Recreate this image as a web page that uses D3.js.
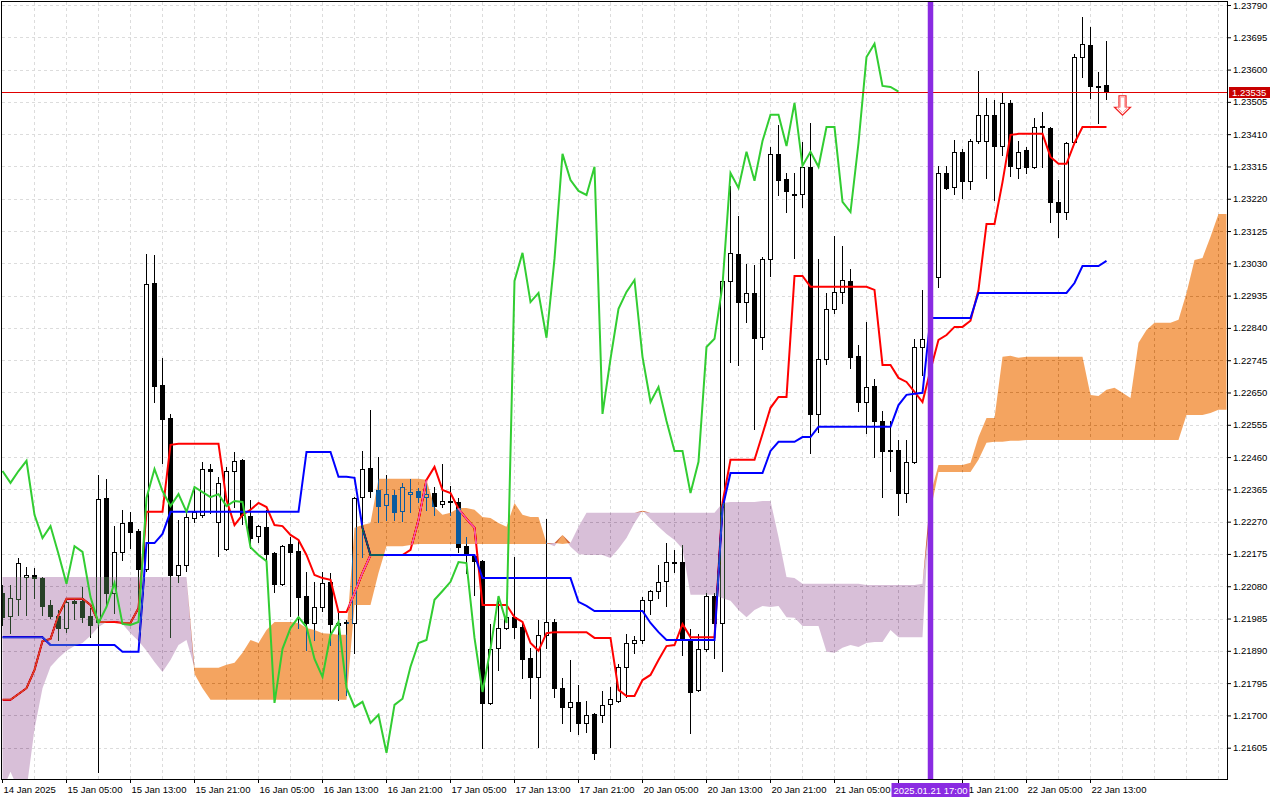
<!DOCTYPE html>
<html>
<head>
<meta charset="utf-8">
<script src="https://cdn.jsdelivr.net/npm/d3@7"></script>
<style>
  html, body { margin: 0; padding: 0; background: #fff; }
  svg { display: block; font-family: "Liberation Sans", Arial, sans-serif; }
</style>
</head>
<body>
<div id="chart"></div>
<script>
// H1 bars, 14 Jan 21:00 .. 22 Jan 15:00
const opens = [
  1.22060,1.21992,1.22043,1.22107,1.22113,1.22104,1.22025,1.21992,1.21957,1.22037,
  1.22037,1.21992,1.21975,1.22340,1.22060,1.22181,1.22269,1.22243,1.22131,1.22972,
  1.22672,1.22575,1.22113,1.22142,1.22281,1.22290,1.22425,1.22269,1.22190,1.22419,
  1.22452,1.22287,1.22228,1.22255,1.22178,1.22087,1.22204,1.22184,1.22051,1.21972,
  1.22019,1.22093,1.21972,1.21972,1.21972,1.22342,1.22428,1.22363,1.22319,1.22348,
  1.22302,1.22351,1.22360,1.22342,1.22354,1.22322,1.22331,1.22328,1.22198,1.22169,
  1.22154,1.21737,1.21899,1.21957,1.21989,1.21960,1.21869,1.21813,1.21937,1.21975,
  1.21781,1.21725,1.21740,1.21678,1.21704,1.21702,1.21734,1.21743,1.21843,1.21913,
  1.21922,1.22040,1.22066,1.22096,1.22151,1.22151,1.21925,1.21775,1.21896,1.22051,
  1.21972,1.22978,1.23058,1.22916,1.22943,1.22814,1.23043,1.23352,1.23278,1.23234,
  1.23234,1.23314,1.22587,1.22749,1.22896,1.22946,1.22978,1.22758,1.22622,1.22669,
  1.22566,1.22480,1.22481,1.22354,1.22446,1.22784,1.22808,1.22990,1.23296,1.23255,
  1.23358,1.23273,1.23390,1.23390,1.23467,1.23375,1.23502,1.23311,1.23364,1.23314,
  1.23434,1.23428,1.23211,1.23181,1.23387,1.23637,1.23673,1.23552,1.23555
];
const highs = [
  1.22084,1.22084,1.22163,1.22136,1.22133,1.22106,1.22040,1.22010,1.22040,1.22045,
  1.22078,1.22016,1.22407,1.22396,1.22257,1.22305,1.22299,1.22249,1.23058,1.23055,
  1.22751,1.22587,1.22275,1.22299,1.22372,1.22446,1.22440,1.22401,1.22431,1.22475,
  1.22455,1.22334,1.22260,1.22305,1.22181,1.22200,1.22225,1.22216,1.22122,1.22093,
  1.22122,1.22119,1.22004,1.21981,1.22342,1.22478,1.22599,1.22461,1.22407,1.22363,
  1.22384,1.22396,1.22369,1.22387,1.22372,1.22440,1.22375,1.22340,1.22225,1.22175,
  1.22157,1.21969,1.22048,1.22019,1.22166,1.21975,1.21899,1.21981,1.22278,1.21984,
  1.21810,1.21863,1.21790,1.21743,1.21707,1.21772,1.21784,1.21852,1.21940,1.21934,
  1.22048,1.22069,1.22142,1.22207,1.22187,1.22201,1.21954,1.21940,1.22060,1.22060,
  1.22990,1.23258,1.23170,1.23028,1.23025,1.23049,1.23373,1.23437,1.23296,1.23296,
  1.23387,1.23443,1.23043,1.22943,1.23111,1.23081,1.23014,1.22790,1.22858,1.22690,
  1.22596,1.22566,1.22510,1.22510,1.22808,1.22952,1.22981,1.23317,1.23317,1.23393,
  1.23367,1.23396,1.23596,1.23517,1.23511,1.23531,1.23511,1.23390,1.23373,1.23458,
  1.23475,1.23432,1.23275,1.23387,1.23646,1.23755,1.23726,1.23593,1.23684
];
const lows = [
  1.21966,1.21942,1.21995,1.21995,1.22045,1.21995,1.21986,1.21922,1.21945,1.21984,
  1.21975,1.21930,1.21534,1.22025,1.22001,1.22157,1.22192,1.22016,1.22125,1.22622,
  1.22443,1.21930,1.22093,1.22125,1.22269,1.22284,1.22296,1.22169,1.22187,1.22313,
  1.22263,1.22192,1.22210,1.22157,1.22063,1.22084,1.21992,1.21957,1.21893,1.21922,
  1.22007,1.21907,1.21746,1.21760,1.21884,1.22166,1.22342,1.22269,1.22275,1.22275,
  1.22272,1.22299,1.22328,1.22305,1.22290,1.22313,1.22290,1.22181,1.22119,1.22055,
  1.21604,1.21734,1.21834,1.21954,1.21928,1.21810,1.21752,1.21607,1.21899,1.21755,
  1.21678,1.21654,1.21645,1.21651,1.21572,1.21681,1.21607,1.21740,1.21755,1.21884,
  1.21913,1.21998,1.22045,1.22022,1.22122,1.21878,1.21648,1.21772,1.21890,1.21869,
  1.21831,1.22740,1.22731,1.22858,1.22543,1.22778,1.22993,1.23231,1.23181,1.23046,
  1.23196,1.22472,1.22534,1.22734,1.22884,1.22914,1.22722,1.22596,1.22531,1.22461,
  1.22342,1.22419,1.22290,1.22328,1.22443,1.22702,1.22790,1.22961,1.23249,1.23234,
  1.23222,1.23249,1.23384,1.23281,1.23217,1.23349,1.23287,1.23281,1.23296,1.23311,
  1.23314,1.23152,1.23108,1.23161,1.23384,1.23578,1.23517,1.23443,1.23514
];
const closes = [
  1.21989,1.22045,1.22148,1.22113,1.22104,1.22022,1.21992,1.21957,1.22034,1.22031,
  1.21989,1.21966,1.22337,1.22060,1.22181,1.22266,1.22240,1.22131,1.22969,1.22669,
  1.22573,1.22113,1.22142,1.22284,1.22299,1.22425,1.22419,1.22384,1.22419,1.22449,
  1.22290,1.22222,1.22257,1.22175,1.22087,1.22198,1.22181,1.22048,1.21972,1.22019,
  1.22090,1.21969,1.21966,1.21975,1.22340,1.22425,1.22360,1.22316,1.22351,1.22299,
  1.22372,1.22357,1.22342,1.22351,1.22316,1.22331,1.22328,1.22195,1.22172,1.22154,
  1.21737,1.21896,1.21957,1.21989,1.21960,1.21866,1.21813,1.21937,1.21975,1.21781,
  1.21725,1.21740,1.21678,1.21702,1.21590,1.21731,1.21749,1.21843,1.21913,1.21922,
  1.22040,1.22066,1.22093,1.22151,1.22148,1.21928,1.21769,1.21896,1.22051,1.21972,
  1.22978,1.23061,1.22916,1.22943,1.22811,1.23043,1.23352,1.23275,1.23243,1.23231,
  1.23314,1.22587,1.22749,1.22896,1.22946,1.22981,1.22755,1.22622,1.22666,1.22566,
  1.22478,1.22478,1.22354,1.22446,1.22784,1.22808,1.22966,1.23296,1.23252,1.23358,
  1.23273,1.23390,1.23467,1.23467,1.23375,1.23502,1.23317,1.23358,1.23314,1.23431,
  1.23431,1.23211,1.23181,1.23384,1.23637,1.23676,1.23552,1.23549,1.23535
];

// Ichimoku lines, one value per bar
const tenkan = [
  1.21746,1.21746,1.21763,1.21780,1.21834,1.21919,1.21925,1.21995,1.22043,1.22043,
  1.22043,1.22025,1.21975,1.21975,1.21975,1.21972,1.21972,1.22016,1.22299,1.22299,
  1.22299,1.22496,1.22499,1.22499,1.22499,1.22499,1.22499,1.22499,1.22334,1.22260,
  1.22290,1.22305,1.22325,1.22313,1.22260,1.22257,1.22231,1.22216,1.22172,1.22113,
  1.22104,1.22099,1.22004,1.22004,1.22060,1.22119,1.22172,1.22172,1.22172,1.22172,
  1.22172,1.22187,1.22275,1.22393,1.22431,1.22363,1.22354,1.22308,1.22278,1.22252,
  1.22025,1.22025,1.22025,1.22025,1.21989,1.21975,1.21913,1.21890,1.21942,1.21945,
  1.21945,1.21945,1.21945,1.21945,1.21928,1.21928,1.21928,1.21775,1.21757,1.21757,
  1.21804,1.21819,1.21863,1.21904,1.21907,1.21969,1.21930,1.21930,1.21930,1.21930,
  1.22325,1.22452,1.22452,1.22452,1.22452,1.22528,1.22605,1.22637,1.22637,1.22993,
  1.22993,1.22961,1.22961,1.22961,1.22961,1.22961,1.22961,1.22961,1.22961,1.22952,
  1.22731,1.22731,1.22693,1.22681,1.22652,1.22622,1.22716,1.22805,1.22819,1.22843,
  1.22843,1.22861,1.22952,1.23146,1.23146,1.23269,1.23408,1.23411,1.23411,1.23411,
  1.23411,1.23343,1.23323,1.23323,1.23384,1.23431,1.23431,1.23431,1.23431
];
const kijun = [
  1.21930,1.21930,1.21930,1.21930,1.21930,1.21930,1.21907,1.21907,1.21907,1.21907,
  1.21907,1.21907,1.21907,1.21907,1.21907,1.21887,1.21887,1.21887,1.22207,1.22207,
  1.22234,1.22299,1.22299,1.22299,1.22299,1.22299,1.22299,1.22299,1.22299,1.22299,
  1.22299,1.22299,1.22299,1.22299,1.22299,1.22299,1.22299,1.22299,1.22475,1.22475,
  1.22475,1.22475,1.22402,1.22402,1.22399,1.22252,1.22172,1.22172,1.22172,1.22172,
  1.22172,1.22172,1.22172,1.22172,1.22172,1.22172,1.22172,1.22172,1.22172,1.22172,
  1.22104,1.22104,1.22104,1.22104,1.22104,1.22104,1.22104,1.22104,1.22104,1.22104,
  1.22104,1.22104,1.22034,1.22022,1.22007,1.22007,1.22007,1.22007,1.22007,1.22007,
  1.22007,1.21972,1.21945,1.21922,1.21922,1.21922,1.21922,1.21922,1.21922,1.21922,
  1.22310,1.22413,1.22413,1.22413,1.22413,1.22413,1.22478,1.22505,1.22505,1.22505,
  1.22519,1.22519,1.22549,1.22549,1.22549,1.22549,1.22549,1.22549,1.22549,1.22549,
  1.22549,1.22549,1.22613,1.22643,1.22646,1.22649,1.22869,1.22869,1.22869,1.22869,
  1.22869,1.22869,1.22943,1.22943,1.22943,1.22943,1.22943,1.22943,1.22943,1.22943,
  1.22943,1.22943,1.22943,1.22943,1.22972,1.23022,1.23022,1.23022,1.23037
];
// lagging span, plotted from the first bar
const chikou = [
  1.22419,1.22384,1.22419,1.22449,1.22290,1.22222,1.22257,1.22175,1.22087,1.22198,
  1.22181,1.22048,1.21972,1.22019,1.22090,1.21969,1.21966,1.21975,1.22340,1.22425,
  1.22360,1.22316,1.22351,1.22299,1.22372,1.22357,1.22342,1.22351,1.22316,1.22331,
  1.22328,1.22195,1.22172,1.22154,1.21737,1.21896,1.21957,1.21989,1.21960,1.21866,
  1.21813,1.21937,1.21975,1.21781,1.21725,1.21740,1.21678,1.21702,1.21590,1.21731,
  1.21749,1.21843,1.21913,1.21922,1.22040,1.22066,1.22093,1.22151,1.22148,1.21928,
  1.21769,1.21896,1.22051,1.21972,1.22978,1.23061,1.22916,1.22943,1.22811,1.23043,
  1.23352,1.23275,1.23243,1.23231,1.23314,1.22587,1.22749,1.22896,1.22946,1.22981,
  1.22755,1.22622,1.22666,1.22566,1.22478,1.22478,1.22354,1.22446,1.22784,1.22808,
  1.22966,1.23296,1.23252,1.23358,1.23273,1.23390,1.23467,1.23467,1.23375,1.23502,
  1.23317,1.23358,1.23314,1.23431,1.23431,1.23211,1.23181,1.23384,1.23637,1.23676,
  1.23552,1.23549,1.23535
];
// leading spans, already shifted forward (runs past the last bar)
const spanA = [
  1.21481,1.21534,1.21481,1.21481,1.21660,1.21780,1.21843,1.21869,1.21890,1.21904,
  1.21913,1.21934,1.21960,1.21975,1.21978,1.21969,1.21942,1.21919,1.21890,1.21857,
  1.21828,1.21863,1.21907,1.21922,1.21840,1.21840,1.21840,1.21840,1.21849,1.21855,
  1.21884,1.21922,1.21913,1.21951,1.21975,1.21975,1.21975,1.21972,1.21957,1.21951,
  1.21942,1.21940,1.21937,1.21937,1.22252,1.22260,1.22266,1.22396,1.22396,1.22396,
  1.22396,1.22396,1.22396,1.22393,1.22313,1.22290,1.22296,1.22310,1.22310,1.22305,
  1.22284,1.22281,1.22266,1.22255,1.22325,1.22290,1.22284,1.22284,1.22207,1.22198,
  1.22231,1.22196,1.22175,1.22172,1.22172,1.22172,1.22163,1.22190,1.22222,1.22266,
  1.22302,1.22278,1.22255,1.22234,1.22216,1.22190,1.22055,1.22055,1.22055,1.22055,
  1.22045,1.22037,1.22010,1.21989,1.22010,1.22022,1.22019,1.22022,1.21989,1.21987,
  1.21963,1.21963,1.21963,1.21887,1.21884,1.21899,1.21907,1.21901,1.21913,1.21916,
  1.21916,1.21951,1.21930,1.21930,1.21930,1.21930,1.22351,1.22437,1.22437,1.22437,
  1.22437,1.22443,1.22519,1.22575,1.22575,1.22755,1.22758,1.22752,1.22755,1.22755,
  1.22755,1.22755,1.22755,1.22755,1.22755,1.22755,1.22643,1.22640,1.22658,1.22664,
  1.22649,1.22634,1.22796,1.22834,1.22855,1.22855,1.22855,1.22864,1.22943,1.23040,
  1.23046,1.23108,1.23175,1.23175
];
const spanB = [
  1.22107,1.22107,1.22107,1.22107,1.22107,1.22107,1.22107,1.22107,1.22107,1.22107,
  1.22107,1.22107,1.22107,1.22107,1.22107,1.22107,1.22107,1.22107,1.22107,1.22107,
  1.22107,1.22107,1.22107,1.22107,1.21822,1.21780,1.21746,1.21746,1.21746,1.21746,
  1.21746,1.21746,1.21746,1.21746,1.21746,1.21746,1.21746,1.21746,1.21746,1.21746,
  1.21746,1.21746,1.21746,1.21746,1.22025,1.22025,1.22025,1.22119,1.22198,1.22198,
  1.22198,1.22201,1.22204,1.22204,1.22204,1.22204,1.22204,1.22204,1.22204,1.22204,
  1.22204,1.22204,1.22204,1.22204,1.22204,1.22204,1.22204,1.22204,1.22204,1.22207,
  1.22204,1.22207,1.22255,1.22296,1.22296,1.22296,1.22296,1.22296,1.22296,1.22296,
  1.22299,1.22296,1.22296,1.22296,1.22296,1.22296,1.22296,1.22296,1.22296,1.22296,
  1.22325,1.22328,1.22328,1.22328,1.22328,1.22331,1.22331,1.22225,1.22107,1.22104,
  1.22087,1.22087,1.22087,1.22087,1.22087,1.22087,1.22087,1.22087,1.22084,1.22084,
  1.22084,1.22084,1.22084,1.22084,1.22084,1.22087,1.22302,1.22416,1.22416,1.22416,
  1.22416,1.22416,1.22452,1.22502,1.22505,1.22505,1.22508,1.22508,1.22510,1.22510,
  1.22510,1.22510,1.22510,1.22510,1.22510,1.22510,1.22510,1.22510,1.22510,1.22510,
  1.22510,1.22510,1.22510,1.22510,1.22510,1.22510,1.22510,1.22510,1.22584,1.22584,
  1.22584,1.22590,1.22599,1.22599
];

const priceTicks = [
  1.21605,1.21700,1.21795,1.21890,1.21985,1.22080,1.22175,1.22270,1.22365,1.22460,
  1.22555,1.22650,1.22745,1.22840,1.22935,1.23030,1.23125,1.23220,1.23315,1.23410,
  1.23505,1.23600,1.23695,1.23790
];
const timeTickBars = [0,8,16,24,32,40,48,56,64,72,80,88,96,104,112,120,128,136];
const timeTickLabels = [
  "14 Jan 2025","15 Jan 05:00","15 Jan 13:00","15 Jan 21:00","16 Jan 05:00",
  "16 Jan 13:00","16 Jan 21:00","17 Jan 05:00","17 Jan 13:00","17 Jan 21:00",
  "20 Jan 05:00","20 Jan 13:00","20 Jan 21:00","21 Jan 05:00","21 Jan 13:00",
  "21 Jan 21:00","22 Jan 05:00","22 Jan 13:00"
];
const lastPrice = 1.23535;
const cursorBar = 116;
const cursorLabel = "2025.01.21 17:00";
const signalBar = 140;
const signalPrice = 1.23523;

// layout
const WIDTH = 1280, HEIGHT = 800;
const PLOT = { left: 2, top: 2, right: 1227, bottom: 779 };
const SANDY = "#f4a460", THISTLE = "#d8bfd8";
const FONT_SIZE = "9.5px";
const CURSOR_TAG_W = 78;

const x = d3.scaleLinear().domain([0, 1]).range([2.5, 10.5]);
const y = d3.scaleLinear().domain([1.21605, 1.23790]).range([747.7, 5]);

// MT5 draws the cloud in xor-mode, so draw the inverse colour with difference blending
function invert(c) {
  const rgb = d3.rgb(c);
  return d3.rgb(255 - rgb.r, 255 - rgb.g, 255 - rgb.b).formatHex();
}

const svg = d3.select("#chart").append("svg")
  .attr("width", WIDTH).attr("height", HEIGHT);

svg.append("rect").attr("width", WIDTH).attr("height", HEIGHT).attr("fill", "#fff");

svg.append("clipPath").attr("id", "plotClip")
  .append("rect")
  .attr("x", PLOT.left).attr("y", PLOT.top)
  .attr("width", PLOT.right - PLOT.left).attr("height", PLOT.bottom - PLOT.top);

const plot = svg.append("g").attr("clip-path", "url(#plotClip)");
plot.append("rect")
  .attr("x", PLOT.left).attr("y", PLOT.top)
  .attr("width", PLOT.right - PLOT.left).attr("height", PLOT.bottom - PLOT.top)
  .attr("fill", "#fff");

// grid
const grid = plot.append("g")
  .attr("stroke", "#dcdcdc").attr("stroke-dasharray", "3,3").attr("shape-rendering", "crispEdges");
grid.selectAll(".hgrid").data(priceTicks).join("line")
  .attr("x1", PLOT.left).attr("x2", PLOT.right)
  .attr("y1", (d) => Math.round(y(d)) + 0.5).attr("y2", (d) => Math.round(y(d)) + 0.5);
grid.selectAll(".vgrid").data(d3.range(4, spanA.length, 4)).join("line")
  .attr("x1", (d) => x(d)).attr("x2", (d) => x(d))
  .attr("y1", PLOT.top).attr("y2", PLOT.bottom);

// candles
const bars = d3.range(opens.length);
const candles = plot.append("g");
candles.selectAll(".wick").data(bars).join("line")
  .attr("class", "wick")
  .attr("x1", (i) => x(i)).attr("x2", (i) => x(i))
  .attr("y1", (i) => Math.round(y(highs[i]))).attr("y2", (i) => Math.round(y(lows[i])) + 1)
  .attr("stroke", "#000").attr("stroke-width", 1);
candles.selectAll(".body").data(bars).join("rect")
  .attr("class", "body")
  .attr("x", (i) => x(i) - 2)
  .attr("width", 4)
  .attr("y", (i) => Math.round(y(Math.max(opens[i], closes[i]))) + 0.5)
  .attr("height", (i) => Math.max(0, Math.round(y(Math.min(opens[i], closes[i]))) - Math.round(y(Math.max(opens[i], closes[i])))))
  .attr("fill", (i) => (closes[i] >= opens[i] ? "#fff" : "#000"))
  .attr("stroke", "#000").attr("stroke-width", 1)
  .attr("shape-rendering", "crispEdges");

const line = d3.line().x((d, i) => x(i)).y((d) => y(d));
plot.append("path").datum(tenkan).attr("d", line)
  .attr("fill", "none").attr("stroke", "#ff0000").attr("stroke-width", 2);
plot.append("path").datum(kijun).attr("d", line)
  .attr("fill", "none").attr("stroke", "#0000ff").attr("stroke-width", 2);

// kumo
const cloudIdx = d3.range(spanA.length);
const bullArea = d3.area().x((i) => x(i))
  .y0((i) => y(spanB[i])).y1((i) => y(Math.max(spanA[i], spanB[i])));
const bearArea = d3.area().x((i) => x(i))
  .y0((i) => y(spanA[i])).y1((i) => y(Math.max(spanA[i], spanB[i])));
plot.append("path").datum(cloudIdx).attr("d", bullArea)
  .attr("fill", invert(SANDY)).style("mix-blend-mode", "difference");
plot.append("path").datum(cloudIdx).attr("d", bearArea)
  .attr("fill", invert(THISTLE)).style("mix-blend-mode", "difference");

plot.append("path").datum(chikou).attr("d", line)
  .attr("fill", "none").attr("stroke", "#32cd32").attr("stroke-width", 2);

// last price line
const yLast = Math.round(y(lastPrice)) + 0.5;
plot.append("line")
  .attr("x1", PLOT.left).attr("x2", PLOT.right).attr("y1", yLast).attr("y2", yLast)
  .attr("stroke", "#e00000").attr("stroke-width", 1);

// sell signal arrow
const ax = x(signalBar), ay = y(signalPrice);
const arrowPath = (s) => `M${ax - 3.5 + s},${ay + s} H${ax + 3.5 - s} V${ay + 11.5} H${ax + 8 - 2 * s} L${ax},${ay + 19.5 - 2 * s} L${ax - 8 + 2 * s},${ay + 11.5} H${ax - 3.5 + s} Z`;
plot.append("path").attr("d", arrowPath(0))
  .attr("fill", "#fff").attr("stroke", "#f02020").attr("stroke-width", 1.2);
plot.append("path").attr("d", arrowPath(1.3))
  .attr("fill", "none").attr("stroke", "#ffa0a0").attr("stroke-width", 1);

// cursor line
plot.append("line")
  .attr("x1", x(cursorBar)).attr("x2", x(cursorBar))
  .attr("y1", PLOT.top).attr("y2", PLOT.bottom)
  .attr("stroke", "#8a2be2").attr("stroke-width", 5.5);

// frame
svg.append("rect")
  .attr("x", 1.5).attr("y", 1.5)
  .attr("width", PLOT.right - 1.5 + 0.5).attr("height", PLOT.bottom - 1.5 + 0.5)
  .attr("fill", "none").attr("stroke", "#000").attr("stroke-width", 1)
  .attr("shape-rendering", "crispEdges");

// price axis
const yAxis = svg.append("g")
  .attr("transform", `translate(${PLOT.right},0)`)
  .call(d3.axisRight(y).tickValues(priceTicks).tickSize(4).tickFormat(d3.format(".5f")));
yAxis.select(".domain").remove();
yAxis.selectAll("text").attr("font-size", FONT_SIZE).attr("fill", "#000").attr("x", 6);
yAxis.attr("font-family", null);

// time axis; the label sitting under the cursor tag is hidden by it
const cx = x(cursorBar);
const xAxis = svg.append("g")
  .attr("transform", `translate(-0.5,${PLOT.bottom})`)
  .call(d3.axisBottom(x).tickValues(timeTickBars).tickSize(4)
    .tickFormat((d, k) => timeTickLabels[k]));
xAxis.select(".domain").remove();
xAxis.selectAll("text").attr("font-size", FONT_SIZE).attr("fill", "#000")
  .attr("text-anchor", "start").attr("x", 1);
xAxis.selectAll(".tick")
  .filter((d) => x(d) > cx - CURSOR_TAG_W / 2 && x(d) < cx + CURSOR_TAG_W / 2 - 20)
  .select("text").remove();
xAxis.attr("font-family", null);

// last price tag
svg.append("rect")
  .attr("x", 1229).attr("y", yLast - 5.5).attr("width", 41).attr("height", 11)
  .attr("fill", "#c80000");
svg.append("text")
  .attr("x", 1232).attr("y", yLast + 3.5)
  .attr("font-size", FONT_SIZE).attr("fill", "#fff")
  .text(d3.format(".5f")(lastPrice));

// cursor time tag
svg.append("rect")
  .attr("x", cx - CURSOR_TAG_W / 2).attr("y", 783).attr("width", CURSOR_TAG_W).attr("height", 14)
  .attr("fill", "#8a2be2");
svg.append("text")
  .attr("x", cx).attr("y", 793.5).attr("text-anchor", "middle")
  .attr("font-size", FONT_SIZE).attr("fill", "#fff")
  .text(cursorLabel);
</script>
</body>
</html>
